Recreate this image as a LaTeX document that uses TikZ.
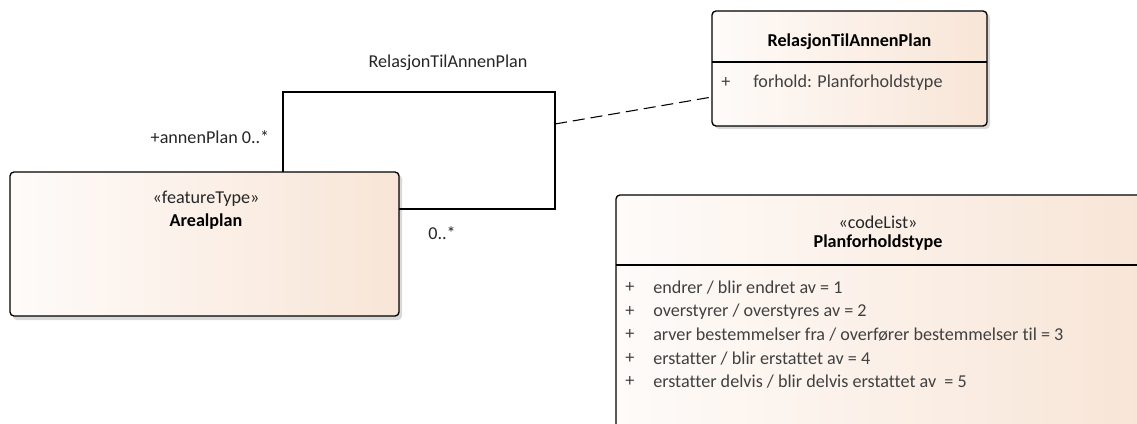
\documentclass[tikz,border=0pt]{standalone}
\usepackage{fontspec}
\setmainfont{Carlito}[Ligatures=NoCommon]
\begin{document}
\begin{tikzpicture}[x=0.75pt,y=-0.75pt,
  font=\fontsize{13.6}{16}\selectfont,
  boxshade/.style={fill=black!15, rounded corners=3pt},
  classbox/.style={draw=black, line width=1pt, rounded corners=3pt,
    left color={rgb,255:red,254;green,251;blue,249},
    right color={rgb,255:red,248;green,229;blue,215}},
  divider/.style={draw=black, line width=1pt},
  assoc/.style={draw=black, line width=0.8pt},
  dashlink/.style={draw=black, line width=0.8pt, dash pattern=on 9pt off 4.5pt},
  txt/.style={inner sep=0pt, text=black!85},
  bold/.style={txt, font=\fontsize{13.6}{16}\selectfont\bfseries, text=black},
  attr/.style={txt, anchor=west, text=black!75}]
\useasboundingbox (0,0) rectangle (1137,424);
\clip (0,0) rectangle (1137,424);
\fill[white] (0,0) rectangle (1137,424);

% Arealplan class
\fill[boxshade] (13,175) rectangle (402,320);
\path[classbox] (10,172) rectangle (399,316);
\coordinate (apTop) at (283,172);
\coordinate (apRight) at (399,209);
\node[txt] (apStereo) at (206,199) {«featureType»};
\node[bold] (apName) at (206,222) {Arealplan};

% RelasjonTilAnnenPlan association class
\fill[boxshade] (715,14) rectangle (990,129);
\path[classbox] (712,11) rectangle (987,126);
\draw[divider] (712,62) -- (987,62);
\node[bold] (rtName) at (849.5,42) {RelasjonTilAnnenPlan};
\node[attr] (rtPlus) at (721,83) {+};
\node[attr] (rtAttr) at (753,83) {forhold: Planforholdstype};
\coordinate (rtLeft) at (712,97);

% Planforholdstype code list
\fill[boxshade] (619,198) rectangle (1145,450);
\path[classbox] (616,195) rectangle (1142,447);
\draw[divider] (616,265) -- (1142,265);
\node[txt] (pfStereo) at (878,222) {«codeList»};
\node[bold] (pfName) at (878,243) {Planforholdstype};
\foreach \y/\t [count=\i] in {
  288/{endrer / blir endret av = 1},
  312/{overstyrer / overstyres av = 2},
  335/{arver bestemmelser fra / overfører bestemmelser til = 3},
  359/{erstatter / blir erstattet av = 4},
  382/{erstatter delvis / blir delvis erstattet av\ \ = 5}} {
  \node[attr] (pfPlus\i) at (625,\y) {+};
  \node[attr] (pfVal\i) at (653,\y) {\t};
}

% Reflexive association on Arealplan
\coordinate (c1) at (283,92);
\coordinate (c2) at (555,92);
\coordinate (c3) at (555,209);
\coordinate (mid) at (555,124);
\draw[assoc] (apTop) -- (c1) -- (c2) -- (c3) -- (apRight);
\draw[dashlink] (mid) -- (rtLeft);
\node[txt] (assocName) at (448,63) {RelasjonTilAnnenPlan};
\node[txt] (roleTop) at (210,137) {+annenPlan 0..*};
\node[txt] (roleBot) at (442,233) {0..*};
\end{tikzpicture}
\end{document}
